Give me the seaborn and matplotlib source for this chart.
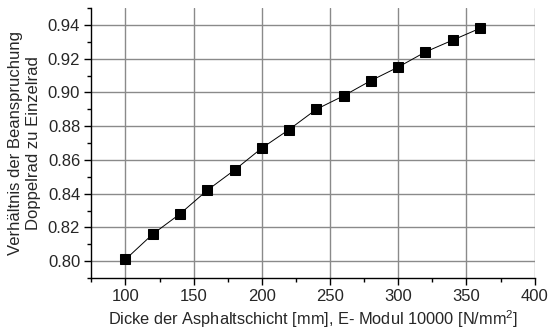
import pandas as pd
import seaborn as sns
import matplotlib.pyplot as plt
import numpy as np

# Data
thickness = [100, 120, 140, 160, 180, 200, 220, 240, 260, 280, 300, 320, 340, 360]
ratio = [0.801, 0.816, 0.828, 0.842, 0.854, 0.867, 0.878, 0.890, 0.898,
         0.907, 0.915, 0.924, 0.931, 0.938]
x_ticks = [100, 150, 200, 250, 300, 350, 400]
y_ticks = [0.80, 0.82, 0.84, 0.86, 0.88, 0.90, 0.92, 0.94]

df = pd.DataFrame({'dicke': thickness, 'verh': ratio})

sns.set_style('ticks')
plt.rcParams['font.family'] = ['Liberation Sans', 'DejaVu Sans']
plt.rcParams['mathtext.fontset'] = 'custom'
plt.rcParams['mathtext.rm'] = 'Liberation Sans'
plt.rcParams['mathtext.it'] = 'Liberation Sans'

fig, ax = plt.subplots(figsize=(5.5, 3.35), dpi=100)
fig.subplots_adjust(left=0.166, right=0.972, bottom=0.17, top=0.976)

ax.grid(True, color='#8a8a8a', linewidth=1)
ax.set_axisbelow(True)

sns.lineplot(data=df, x='dicke', y='verh', ax=ax, color='black', linewidth=0.7,
             marker='s', markersize=6.5, markeredgecolor='black', markerfacecolor='black')

ax.set_xlim(75, 400)
ax.set_ylim(0.79, 0.95)
ax.set_xticks(x_ticks)
ax.set_yticks(y_ticks)
ax.set_yticklabels([f'{v:.2f}' for v in y_ticks])
ax.set_xticks(np.arange(75, 401, 25), minor=True)
ax.set_yticks(np.arange(0.79, 0.951, 0.01), minor=True)
ax.tick_params(axis='both', which='major', direction='out', length=5, width=1,
               labelsize=12, color='black', pad=3)
ax.tick_params(axis='both', which='minor', direction='out', length=3, width=1,
               color='black')

sns.despine(ax=ax)
for s in ['left', 'bottom']:
    ax.spines[s].set_color('black')
    ax.spines[s].set_linewidth(1)

ax.set_xlabel(r'Dicke der Asphaltschicht [mm], E- Modul 10000 [N/mm$^2$]', fontsize=11.8, labelpad=3)
ax.set_ylabel('Verhältnis der Beanspruchung\nDoppelrad zu Einzelrad', fontsize=12, labelpad=5)

fig.savefig('out.png', dpi=100)
